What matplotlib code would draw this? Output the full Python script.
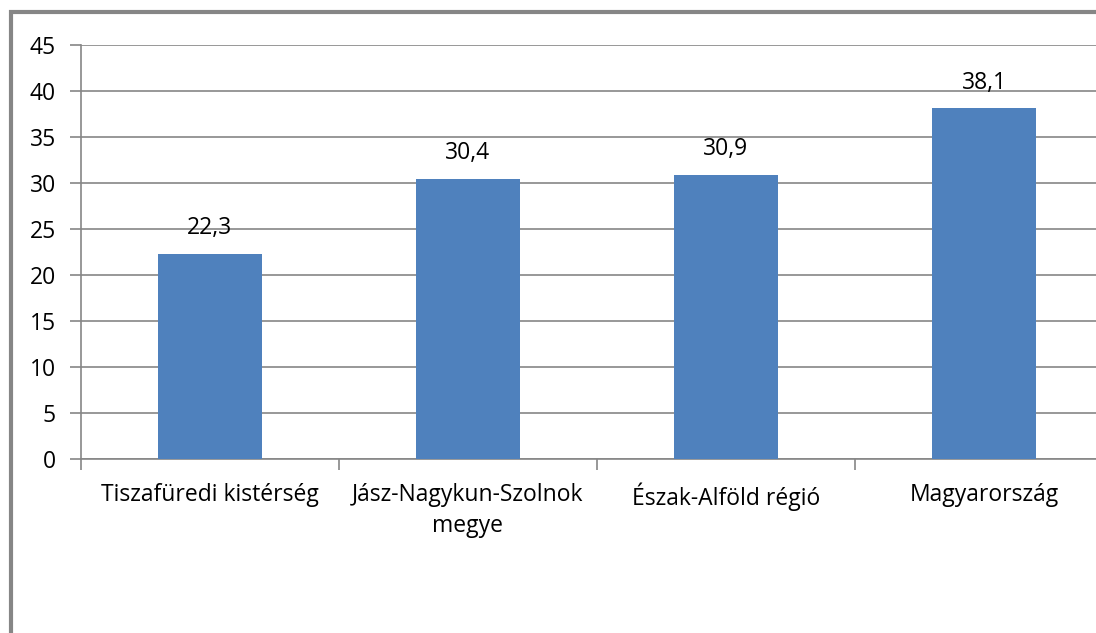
import matplotlib.pyplot as plt
from matplotlib.patches import Rectangle
import numpy as np

categories = ['Tiszafüredi kistérség', 'Jász-Nagykun-Szolnok\nmegye',
              'Észak-Alföld régió', 'Magyarország']
values = [22.3, 30.4, 30.9, 38.1]
value_labels = ['22,3', '30,4', '30,9', '38,1']
yticks = [0, 5, 10, 15, 20, 25, 30, 35, 40, 45]

plt.rcParams['font.family'] = ['Open Sans', 'DejaVu Sans']
grey = '#868686'
fs = 16.5

fig = plt.figure(figsize=(10.96, 6.33), dpi=100)
ax = fig.add_axes([81 / 1096, 1 - 459 / 633, (1113 - 81) / 1096, (459 - 45) / 633])

x = np.arange(len(categories))
ax.bar(x, values, width=0.4, color='#4F81BD', zorder=3)

for xi, v, lab in zip(x, values, value_labels):
    ax.annotate(lab, (xi, v), xytext=(0, 10), textcoords='offset points',
                ha='center', va='bottom', fontsize=fs, color='black')

ax.set_xlim(-0.5, len(categories) - 0.5)
ax.set_ylim(0, 45)
ax.set_yticks(yticks)
ax.set_yticklabels([str(t) for t in yticks], fontsize=fs)
ax.yaxis.grid(True, color=grey, linewidth=1.2, zorder=0)

# category ticks on the boundaries, labels in the middle
ax.set_xticks(np.arange(len(categories) + 1) - 0.5)
ax.set_xticklabels([])
ax.set_xticks(x, minor=True)
ax.set_xticklabels(categories, minor=True, fontsize=fs, linespacing=1.4)
ax.tick_params(axis='x', which='minor', length=0, pad=17)
ax.tick_params(axis='x', which='major', length=8, color=grey, width=1.2)
ax.tick_params(axis='y', length=8, color=grey, width=1.2, pad=10)

for s in ['top', 'right']:
    ax.spines[s].set_visible(False)
for s in ['left', 'bottom']:
    ax.spines[s].set_color(grey)
    ax.spines[s].set_linewidth(1.2)

# outer chart border (cut off at right and bottom)
fig.patches.append(Rectangle((10.5 / 1096, -0.1), 1.2, 1.1 - 12 / 633,
                             transform=fig.transFigure, fill=False,
                             edgecolor=grey, linewidth=3))

fig.savefig('out.png', dpi=100)
